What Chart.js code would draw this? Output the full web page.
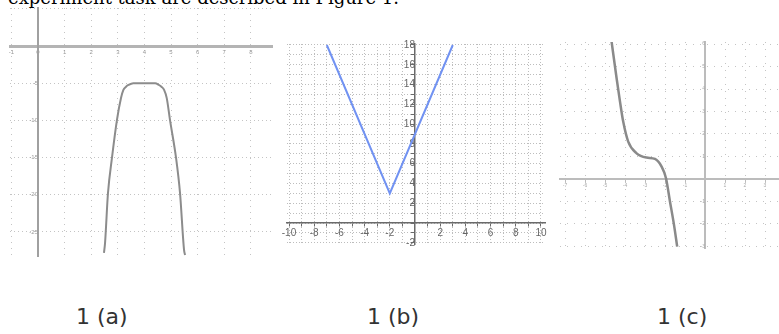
<!DOCTYPE html>
<html>
<head>
<meta charset="utf-8">
<script src="https://cdn.jsdelivr.net/npm/chart.js@4.4.0/dist/chart.umd.min.js"></script>
<style>
  html, body { margin: 0; padding: 0; background: #fff; }
  body { width: 779px; height: 334px; position: relative; overflow: hidden; }
  .lead { position: absolute; left: 8px; top: -11px; font: 18px/18px 'DejaVu Serif', serif; color: #000; white-space: nowrap; }
  .cap  { position: absolute; top: 304px; font: 22px/26px 'DejaVu Sans', sans-serif; color: #333; white-space: nowrap; }
  canvas { position: absolute; }
</style>
</head>
<body>
<div class="lead">experiment task are described in Figure 1.</div>
<div class="cap" style="left:76px">1 (a)</div>
<div class="cap" style="left:367px">1 (b)</div>
<div class="cap" style="left:657px">1 (c)</div>
<canvas id="chartA"></canvas>
<canvas id="chartB"></canvas>
<canvas id="chartC"></canvas>
<script>
/* ---- Data ---- */
const curveA_x = [2.48, 2.52, 2.63, 2.78, 2.97, 3.12, 3.21, 3.30, 3.40, 3.58, 4.00, 4.40, 4.55, 4.65, 4.74, 4.84, 4.96, 5.19, 5.34, 5.49, 5.53];
const curveA_y = [-27.8, -26.5, -19.8, -15.05, -9.9, -7.0, -5.9, -5.5, -5.24, -5.0, -5.0, -5.0, -5.24, -5.5, -5.9, -7.0, -9.9, -15.05, -19.8, -27.4, -28.1];

const lineB_x = [-7, -2, 3];
const lineB_y = [18, 3, 18];

const curveC_x = [-4.67, -4.42, -4.25, -4.09, -3.84, -3.42, -2.92, -2.50, -2.17, -1.95, -1.75, -1.55, -1.39];
const curveC_y = [6.10, 4.48, 3.44, 2.55, 1.66, 1.14, 0.95, 0.89, 0.55, 0.03, -1.01, -2.04, -3.01];

/* tick labels shown on each plane */
const labelsA_x = [-1, 0, 1, 2, 3, 4, 5, 6, 7, 8];
const labelsA_y = [-5, -10, -15, -20, -25];
const labelsB_x = [-10, -8, -6, -4, -2, 2, 4, 6, 8, 10];
const labelsB_y = [18, 16, 14, 12, 10, 8, 6, 4, 2, -2];
const labelsC_x = [-7, -6, -5, -4, -3, -2, -1, 1, 2, 3];
const labelsC_y = [6, 5, 4, 3, 2, 1, -1, -2, -3];

/* ---- Helpers ---- */
const PAD = 14;

function zeroPadding(scale) {
  scale.paddingLeft = scale.paddingRight = scale.paddingTop = scale.paddingBottom = 0;
}

function axis(o) {
  return {
    type: 'linear',
    min: o.min,
    max: o.max,
    position: o.position,
    afterFit: zeroPadding,
    border: { display: true, color: o.axisColor, width: o.axisWidth, dash: o.dash },
    grid: {
      color: o.gridColor,
      lineWidth: 1,
      drawTicks: o.tickLength > 0,
      tickLength: o.tickLength,
      tickColor: o.axisColor,
    },
    ticks: {
      stepSize: o.step,
      includeBounds: false,
      autoSkip: false,
      maxRotation: 0,
      padding: o.padding || 0,
      color: o.labelColor,
      font: { family: o.family || 'Liberation Sans', size: o.fontSize },
      callback: v => o.labels.includes(v) ? String(v) : '',
    },
  };
}

function plane(id, box, xs, ys, line, xAxis, yAxis) {
  const canvas = document.getElementById(id);
  canvas.width  = box.w + PAD * 2;
  canvas.height = box.h + PAD * 2;
  canvas.style.left = (box.left - PAD) + 'px';
  canvas.style.top  = (box.top - PAD) + 'px';

  return new Chart(canvas.getContext('2d'), {
    type: 'scatter',
    data: {
      datasets: [{
        data: xs.map((x, i) => ({ x, y: ys[i] })),
        showLine: true,
        borderColor: line.color,
        borderWidth: line.width,
        pointRadius: 0,
        tension: line.smooth ? 0.4 : 0,
        cubicInterpolationMode: line.smooth ? 'monotone' : 'default',
      }],
    },
    options: {
      responsive: false,
      animation: false,
      events: [],
      layout: { padding: PAD },
      plugins: { legend: { display: false }, tooltip: { enabled: false } },
      scales: {
        x: axis(Object.assign({ position: { y: 0 } }, xAxis)),
        y: axis(Object.assign({ position: { x: 0 } }, yAxis)),
      },
    },
  });
}

/* ---- 1 (a) ---- */
plane('chartA', { left: 10, top: 8, w: 262, h: 248 }, curveA_x, curveA_y,
  { color: '#8c8c8c', width: 2, smooth: true },
  { min: -1.053, max: 8.797, step: 1, labels: labelsA_x, dash: [1, 5],
    gridColor: '#c4c4c4', axisColor: '#b4b4b4', axisWidth: 3, tickLength: 0,
    labelColor: '#9a9a9a', fontSize: 6, padding: 3 },
  { min: -28.23, max: 5.11, step: 5, labels: labelsA_y, dash: [1, 3],
    gridColor: '#c4c4c4', axisColor: '#a0a0a0', axisWidth: 2, tickLength: 0,
    labelColor: '#9a9a9a', fontSize: 6 });

/* ---- 1 (b) ---- */
plane('chartB', { left: 287, top: 44, w: 258, h: 200 }, lineB_x, lineB_y,
  { color: '#7192f2', width: 2, smooth: false },
  { min: -10.16, max: 10.32, step: 1, labels: labelsB_x, dash: [1, 2],
    gridColor: '#bdbdbd', axisColor: '#6a6a6a', axisWidth: 1.5, tickLength: 3,
    labelColor: '#666', fontSize: 10, padding: 1 },
  { min: -2.12, max: 18.1, step: 1, labels: labelsB_y, dash: [1, 2],
    gridColor: '#bdbdbd', axisColor: '#6a6a6a', axisWidth: 1.5, tickLength: 3,
    labelColor: '#666', fontSize: 10 });

/* ---- 1 (c) ---- */
plane('chartC', { left: 560, top: 42, w: 219, h: 206 }, curveC_x, curveC_y,
  { color: '#8a8a8a', width: 2.5, smooth: true },
  { min: -7.25, max: 3.7, step: 1, labels: labelsC_x, dash: [1, 6],
    gridColor: '#c4c4c4', axisColor: '#bcbcbc', axisWidth: 2, tickLength: 2,
    labelColor: '#aaa', fontSize: 5, padding: 2 },
  { min: -3.07, max: 6.09, step: 1, labels: labelsC_y, dash: [1, 6],
    gridColor: '#c4c4c4', axisColor: '#bcbcbc', axisWidth: 2, tickLength: 0,
    labelColor: '#aaa', fontSize: 5 });
</script>
</body>
</html>
